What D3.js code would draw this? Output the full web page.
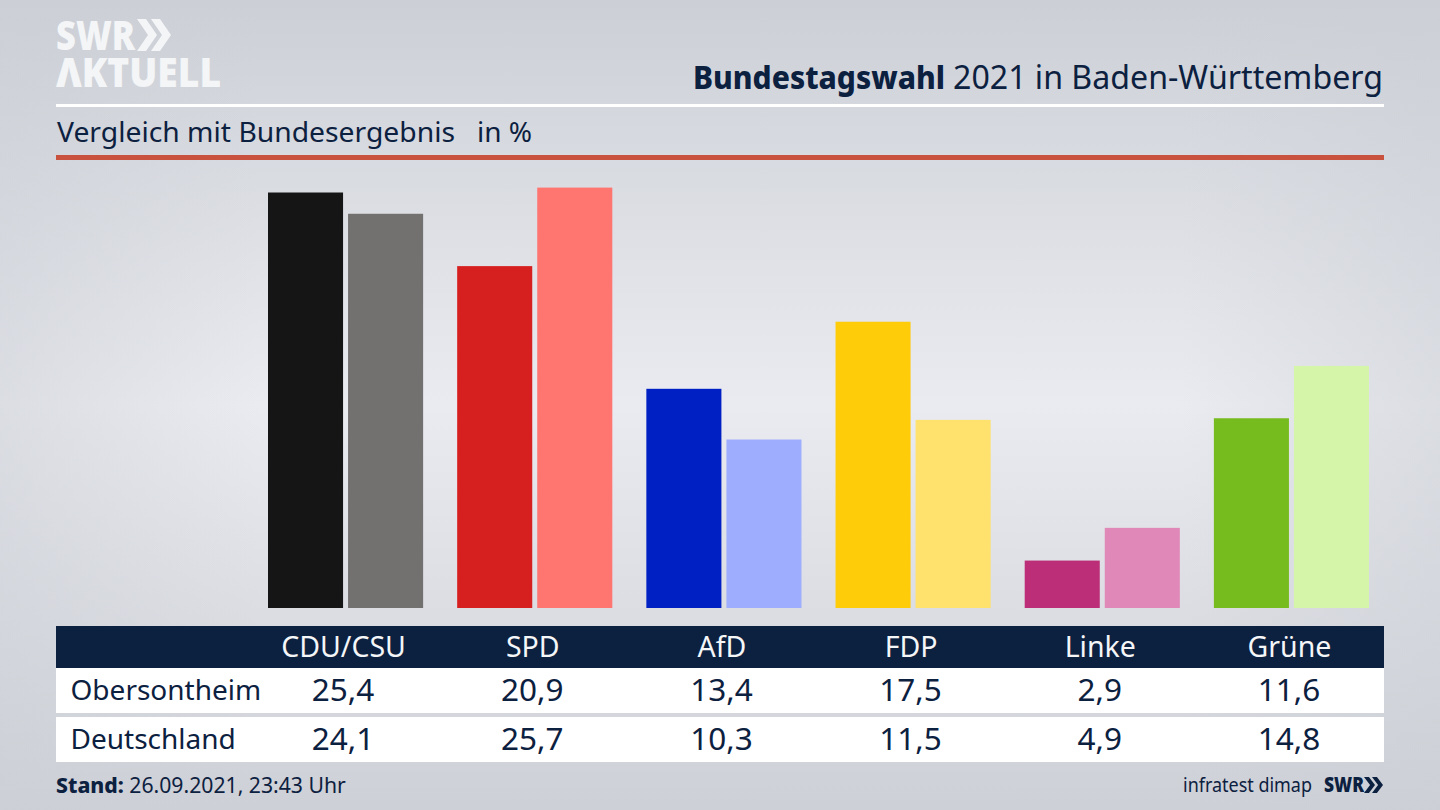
<!DOCTYPE html>
<html>
<head>
<meta charset="utf-8">
<script src="https://cdn.jsdelivr.net/npm/d3@7"></script>
<style>
  html, body { margin: 0; padding: 0; background: #d0d3d9; }
  svg { display: block; }
  text { font-family: "Noto Sans", sans-serif; fill: #0c2040; }
</style>
</head>
<body>
<svg id="chart" width="1440" height="810"></svg>
<script>
var parties = ['CDU/CSU', 'SPD', 'AfD', 'FDP', 'Linke', 'Grüne'];
var regions = ['Obersontheim', 'Deutschland'];
var obersontheim = [25.4, 20.9, 13.4, 17.5, 2.9, 11.6];
var deutschland = [24.1, 25.7, 10.3, 11.5, 4.9, 14.8];
var darkColors = ['#151515', '#d61f1f', '#0020c4', '#ffcc0a', '#bc2f78', '#76bc1e'];
var lightColors = ['#72716f', '#ff7570', '#9fadff', '#ffe16e', '#e088b8', '#d5f5a8'];

var navy = '#0c2040';
var svg = d3.select('#chart');
var defs = svg.append('defs');

// background: grey at the edges, lighter in the middle
var vert = defs.append('linearGradient').attr('id', 'bgV')
  .attr('x1', 0).attr('y1', 0).attr('x2', 0).attr('y2', 1);
vert.append('stop').attr('offset', '0%').attr('stop-color', '#ccd0d6');
vert.append('stop').attr('offset', '50%').attr('stop-color', '#eaebf0');
vert.append('stop').attr('offset', '100%').attr('stop-color', '#cdd0d6');
var side = defs.append('linearGradient').attr('id', 'bgH');
side.append('stop').attr('offset', '0%').attr('stop-color', '#ccd0d6').attr('stop-opacity', 0.5);
side.append('stop').attr('offset', '18%').attr('stop-color', '#ccd0d6').attr('stop-opacity', 0);
side.append('stop').attr('offset', '82%').attr('stop-color', '#ccd0d6').attr('stop-opacity', 0);
side.append('stop').attr('offset', '100%').attr('stop-color', '#ccd0d6').attr('stop-opacity', 0.5);
svg.append('rect').attr('width', 1440).attr('height', 810).attr('fill', 'url(#bgV)');
svg.append('rect').attr('width', 1440).attr('height', 810).attr('fill', 'url(#bgH)');

// logo
function chevrons(g, x, y, h, w, gap, fill) {
  [0, 1].forEach(function(i) {
    var x0 = x + i * gap;
    g.append('path')
      .attr('d', 'M' + x0 + ',' + y + 'h' + w * 0.45 + 'L' + (x0 + w) + ',' + (y + h / 2) +
        'L' + (x0 + w * 0.45) + ',' + (y + h) + 'h' + (-w * 0.45) + 'L' + (x0 + w * 0.55) + ',' + (y + h / 2) + 'Z')
      .attr('fill', fill);
  });
}
var logo = svg.append('g');
logo.append('text').attr('x', 56).attr('y', 50)
  .attr('textLength', 79).attr('lengthAdjust', 'spacingAndGlyphs')
  .style('font-family', '"Open Sans"').style('font-weight', 800).style('font-size', '41px').style('fill', '#f4f5f7')
  .text('SWR');
chevrons(logo, 137, 19, 32, 20, 14, '#f4f5f7');
logo.append('text').attr('x', 56).attr('y', 87)
  .attr('textLength', 165).attr('lengthAdjust', 'spacingAndGlyphs')
  .style('font-family', '"Open Sans"').style('font-weight', 800).style('font-size', '40px').style('fill', '#f4f5f7')
  .text('ΛKTUELL');

// header
svg.append('text').attr('x', 693).attr('y', 89)
  .attr('textLength', 252).attr('lengthAdjust', 'spacingAndGlyphs')
  .style('font-size', '32px').style('font-weight', 800).text('Bundestagswahl');
svg.append('text').attr('x', 953).attr('y', 89)
  .attr('textLength', 430).attr('lengthAdjust', 'spacingAndGlyphs')
  .style('font-size', '32px').text('2021 in Baden-Württemberg');

svg.append('rect').attr('x', 56).attr('y', 104).attr('width', 1328).attr('height', 3).attr('fill', '#fff');
svg.append('text').attr('x', 57).attr('y', 142).style('font-size', '28px')
  .attr('textLength', 398).attr('lengthAdjust', 'spacingAndGlyphs')
  .text('Vergleich mit Bundesergebnis');
svg.append('text').attr('x', 477).attr('y', 142).style('font-size', '28px').text('in %');
svg.append('rect').attr('x', 56).attr('y', 155).attr('width', 1328).attr('height', 5).attr('fill', '#c9523f');

// bars
var x0 = d3.scaleBand().domain(parties).range([268, 1369]).paddingInner(0.18).paddingOuter(0);
var x1 = d3.scaleBand().domain(regions).range([0, x0.bandwidth()]).paddingInner(0.0625);
var y = d3.scaleLinear().domain([0, 25.7]).range([608, 187.6]);

var seriesList = [
  { region: regions[0], values: obersontheim, colors: darkColors },
  { region: regions[1], values: deutschland, colors: lightColors }
];

seriesList.forEach(function(s) {
  svg.append('g').selectAll('rect')
    .data(s.values)
    .join('rect')
    .attr('x', function(d, i) { return x0(parties[i]) + x1(s.region); })
    .attr('y', function(d) { return y(d); })
    .attr('width', x1.bandwidth())
    .attr('height', function(d) { return y(0) - y(d); })
    .attr('fill', function(d, i) { return s.colors[i]; });
});

// table
var labelX = function(p) { return x0(p) + x0.bandwidth() / 2 - 2.5; };
var fmt = d3.formatLocale({ decimal: ',', thousands: '.', grouping: [3], currency: ['', ' €'] }).format('.1f');

svg.append('rect').attr('x', 56).attr('y', 626).attr('width', 1328).attr('height', 42).attr('fill', '#0c2040');
var headScale = d3.scalePoint().domain(parties).range([labelX(parties[0]), labelX(parties[5])]);
var headAxis = svg.append('g').attr('transform', 'translate(0,637)')
  .call(d3.axisBottom(headScale).tickSize(0).tickPadding(0));
headAxis.select('.domain').remove();
headAxis.selectAll('text')
  .attr('y', 20)
  .attr('dy', 0)
  .style('font-family', '"Noto Sans"')
  .style('font-size', '28.5px')
  .style('fill', '#f4f6f8');

var rowTops = [668, 717];
seriesList.forEach(function(s, r) {
  var row = svg.append('g').attr('transform', 'translate(0,' + rowTops[r] + ')');
  row.append('rect').attr('x', 56).attr('width', 1328).attr('height', 45).attr('fill', '#fff');
  row.append('text').attr('x', 70.5).attr('y', 32).style('font-size', '28px').text(s.region);
  row.selectAll('text.val')
    .data(s.values)
    .join('text')
    .attr('class', 'val')
    .attr('x', function(d, i) { return headScale(parties[i]); })
    .attr('y', 33)
    .attr('text-anchor', 'middle')
    .style('font-size', '31.5px')
    .text(function(d) { return fmt(d); });
});

// footer
var stand = svg.append('text').attr('x', 56).attr('y', 793).style('font-size', '21.2px');
stand.append('tspan').style('font-weight', 800).text('Stand:');
stand.append('tspan').text(' 26.09.2021, 23:43 Uhr');
svg.append('text').attr('x', 1183).attr('y', 792)
  .attr('textLength', 129).attr('lengthAdjust', 'spacingAndGlyphs')
  .style('font-size', '20px').text('infratest dimap');
svg.append('text').attr('x', 1324).attr('y', 792)
  .attr('textLength', 40).attr('lengthAdjust', 'spacingAndGlyphs')
  .style('font-family', '"Open Sans"').style('font-weight', 800).style('font-size', '21px').text('SWR');
chevrons(svg.append('g'), 1364, 777, 16, 11, 8, navy);
</script>
</body>
</html>
